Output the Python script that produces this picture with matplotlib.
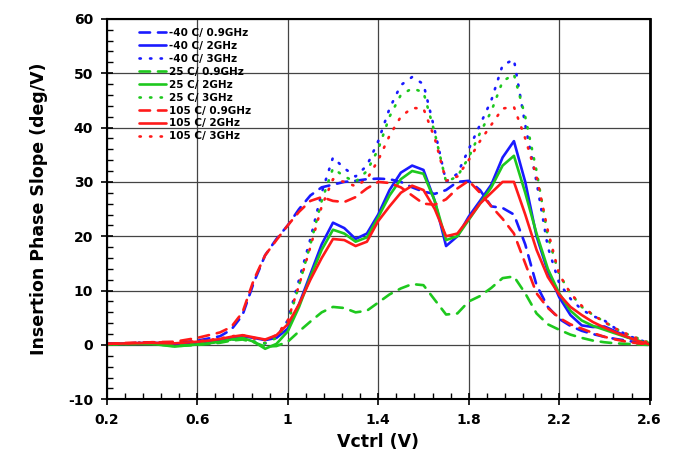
import matplotlib
matplotlib.use("Agg")
import matplotlib.pyplot as plt
from matplotlib.ticker import MultipleLocator, FixedLocator

# control voltage (V)
vctrl = [0.2, 0.3, 0.4, 0.5, 0.6, 0.65, 0.7, 0.75, 0.8, 0.85, 0.9, 0.95,
         1.0, 1.05, 1.1, 1.15, 1.2, 1.25, 1.3, 1.35, 1.4, 1.45, 1.5, 1.55,
         1.6, 1.65, 1.7, 1.75, 1.8, 1.85, 1.9, 1.95, 2.0, 2.05, 2.1, 2.15,
         2.2, 2.25, 2.3, 2.35, 2.4, 2.45, 2.5, 2.55, 2.6]

# -40 C
m40_09 = [0.3, 0.3, 0.5, 0.3, 0.8, 1.2, 1.6, 2.8, 5.5, 11.5, 16.5, 19.5,
          22, 25, 27.5, 29, 29.5, 30, 30.2, 30.5, 30.6, 30.5, 30, 29,
          28.2, 27.8, 28.5, 30, 30.2, 28.5, 25.5, 25.2, 24, 18.5, 11, 7,
          4.8, 3.5, 2.6, 2, 1.5, 1.1, 0.8, 0.4, 0.2]
m40_2 = [0.2, 0.3, 0.4, 0.2, 0.4, 0.6, 0.8, 1.2, 1.6, 1.3, 0.9, 1.3,
         3, 7.5, 13, 18.5, 22.5, 21.5, 19.5, 20.5, 24, 28.5, 31.7, 33,
         32.2, 26.5, 18.2, 20, 23.6, 26.5, 29.5, 34.5, 37.5, 30, 20, 13.5,
         8.8, 5.5, 3.6, 3.3, 3.4, 2.5, 1.5, 0.7, 0.2]
m40_3 = [0.3, 0.3, 0.5, 0.3, 0.3, 0.4, 0.6, 1.0, 1.2, 0.6, 0.3, 1.5,
         4.5, 12, 19.5, 28, 34.5, 32.5, 31, 33, 37.5, 43.5, 47.8, 49.3,
         48, 39.5, 30, 31.5, 36, 40.5, 45, 51.5, 52.5, 40.5, 30, 18,
         11.4, 8.5, 6.5, 5.3, 4.5, 3, 1.8, 1, 0.3]

# 25 C
t25_09 = [0.1, 0.2, 0.2, -0.2, 0, 0.2, 0.4, 0.8, 1.0, 0.5, -0.3, -0.2,
          0.6, 2.5, 4.3, 6, 7, 6.8, 6, 6.3, 7.8, 9.3, 10.4, 11.2,
          11.0, 8.3, 5.6, 5.8, 8, 9, 10.5, 12.3, 12.6, 9.5, 5.8, 3.8,
          2.8, 1.9, 1.3, 0.8, 0.5, 0.3, 0.2, 0.1, 0]
t25_2 = [0.1, 0.2, 0.2, -0.3, 0.1, 0.3, 0.6, 1.0, 1.3, 0.6, -0.7, 0.2,
         2.5, 7, 12.5, 17.5, 21.2, 20.5, 19, 19.8, 23.5, 27.5, 30.5, 32,
         31.5, 26.5, 19.3, 20, 23, 26, 29, 33, 34.8, 28, 20.5, 14,
         9.5, 6.3, 4.5, 3.5, 2.8, 2.1, 1.4, 0.8, 0.2]
t25_3 = [0.2, 0.3, 0.4, 0.2, 0.3, 0.4, 0.6, 1.0, 1.2, 0.6, 0.3, 1.3,
         4, 11, 18.5, 26.5, 32.5, 31, 30, 32, 36, 42, 46, 47.2,
         46.5, 39, 30, 31, 34.5, 39, 43, 48.5, 49.8, 42, 32, 20,
         13, 9.5, 7, 5.5, 4.3, 3, 2, 1.2, 0.4]

# 105 C
t105_09 = [0.2, 0.4, 0.5, 0.6, 1.3, 1.8, 2.3, 3.3, 6, 12, 16.5, 19.3,
           22, 24.5, 26.5, 27.2, 26.5, 26.3, 27.2, 28.8, 30, 29.8, 29, 27.5,
           26, 25.8, 26.8, 28.8, 30.2, 28, 25.5, 23.2, 20.5, 15, 9.5, 6.8,
           5, 3.8, 3, 2.2, 1.5, 1, 0.6, 0.3, 0.1]
t105_2 = [0.2, 0.3, 0.4, 0.3, 0.6, 0.8, 1.1, 1.5, 1.8, 1.4, 1.0, 1.8,
          3.8, 7.5, 12, 16, 19.5, 19.3, 18.2, 19, 22.8, 25.5, 28, 29.3,
          28.5, 25, 20, 20.5, 23.2, 26, 28, 30, 30, 24, 17.5, 12.5,
          9.3, 7, 5.5, 4.2, 3.2, 2.3, 1.5, 0.7, 0.1]
t105_3 = [0.2, 0.3, 0.5, 0.4, 0.7, 0.9, 1.2, 1.6, 1.8, 1.2, 0.9, 1.8,
          4.5, 11, 18, 25.5, 30.5, 30, 29.2, 30.5, 34, 38.5, 42, 43.6,
          43.5, 38, 30.2, 31, 34, 37.5, 40.5, 43.5, 43.8, 38, 31, 21,
          13, 9.5, 7.2, 5.5, 4.2, 3, 2, 1.1, 0.3]

labels = ["-40 C/ 0.9GHz", "-40 C/ 2GHz", "-40 C/ 3GHz",
          "25 C/ 0.9GHz", "25 C/ 2GHz", "25 C/ 3GHz",
          "105 C/ 0.9GHz", "105 C/ 2GHz", "105 C/ 3GHz"]
series = [m40_09, m40_2, m40_3, t25_09, t25_2, t25_3, t105_09, t105_2, t105_3]
colors = ["#1a1aff"] * 3 + ["#1ec81e"] * 3 + ["#ff1a1a"] * 3
styles = [(0, (4, 3)), "-", (0, (0.5, 3.5))] * 3

xticks = [0.2, 0.6, 1.0, 1.4, 1.8, 2.2, 2.6]
xticklabels = ["0.2", "0.6", "1", "1.4", "1.8", "2.2", "2.6"]

plt.rcParams["font.family"] = "DejaVu Sans"
plt.rcParams["font.weight"] = "bold"
plt.rcParams["axes.unicode_minus"] = False

fig = plt.figure(figsize=(6.76, 4.59), dpi=100)
ax = fig.add_axes([0.158, 0.130, 0.803, 0.829])

for y, lab, c, ls in zip(series, labels, colors, styles):
    ax.plot(vctrl, y, color=c, linestyle=ls, lw=1.9, label=lab,
            dash_capstyle="round", solid_capstyle="round",
            solid_joinstyle="round")

ax.set_xlim(0.2, 2.6)
ax.set_ylim(-10, 60)
ax.xaxis.set_major_locator(FixedLocator(xticks))
ax.set_xticklabels(xticklabels)
ax.xaxis.set_minor_locator(MultipleLocator(0.08, offset=0.2))
ax.yaxis.set_major_locator(MultipleLocator(10))
ax.yaxis.set_minor_locator(MultipleLocator(2))

ax.grid(True, which="major", color="#444444", lw=0.9)
ax.tick_params(which="major", direction="inout", length=8, width=1.2,
               labelsize=10, pad=6)
ax.tick_params(which="minor", direction="in", length=4, width=1)
for lbl in ax.get_xticklabels() + ax.get_yticklabels():
    lbl.set_fontweight("bold")

for side in ["left", "bottom", "top"]:
    ax.spines[side].set_linewidth(1.5)
ax.spines["right"].set_linewidth(2)

ax.set_xlabel("Vctrl (V)", fontsize=12.5, fontweight="bold", labelpad=4)
ax.set_ylabel("Insertion Phase Slope (deg/V)", fontsize=12.5,
              fontweight="bold", labelpad=14)

leg = ax.legend(loc="upper left", bbox_to_anchor=(0.045, 0.995), frameon=False,
                fontsize=7.5, handlelength=2.6, handletextpad=0.3,
                labelspacing=0.28, borderaxespad=0.3)
for t in leg.get_texts():
    t.set_fontweight("bold")

fig.savefig("out.png", dpi=100)
